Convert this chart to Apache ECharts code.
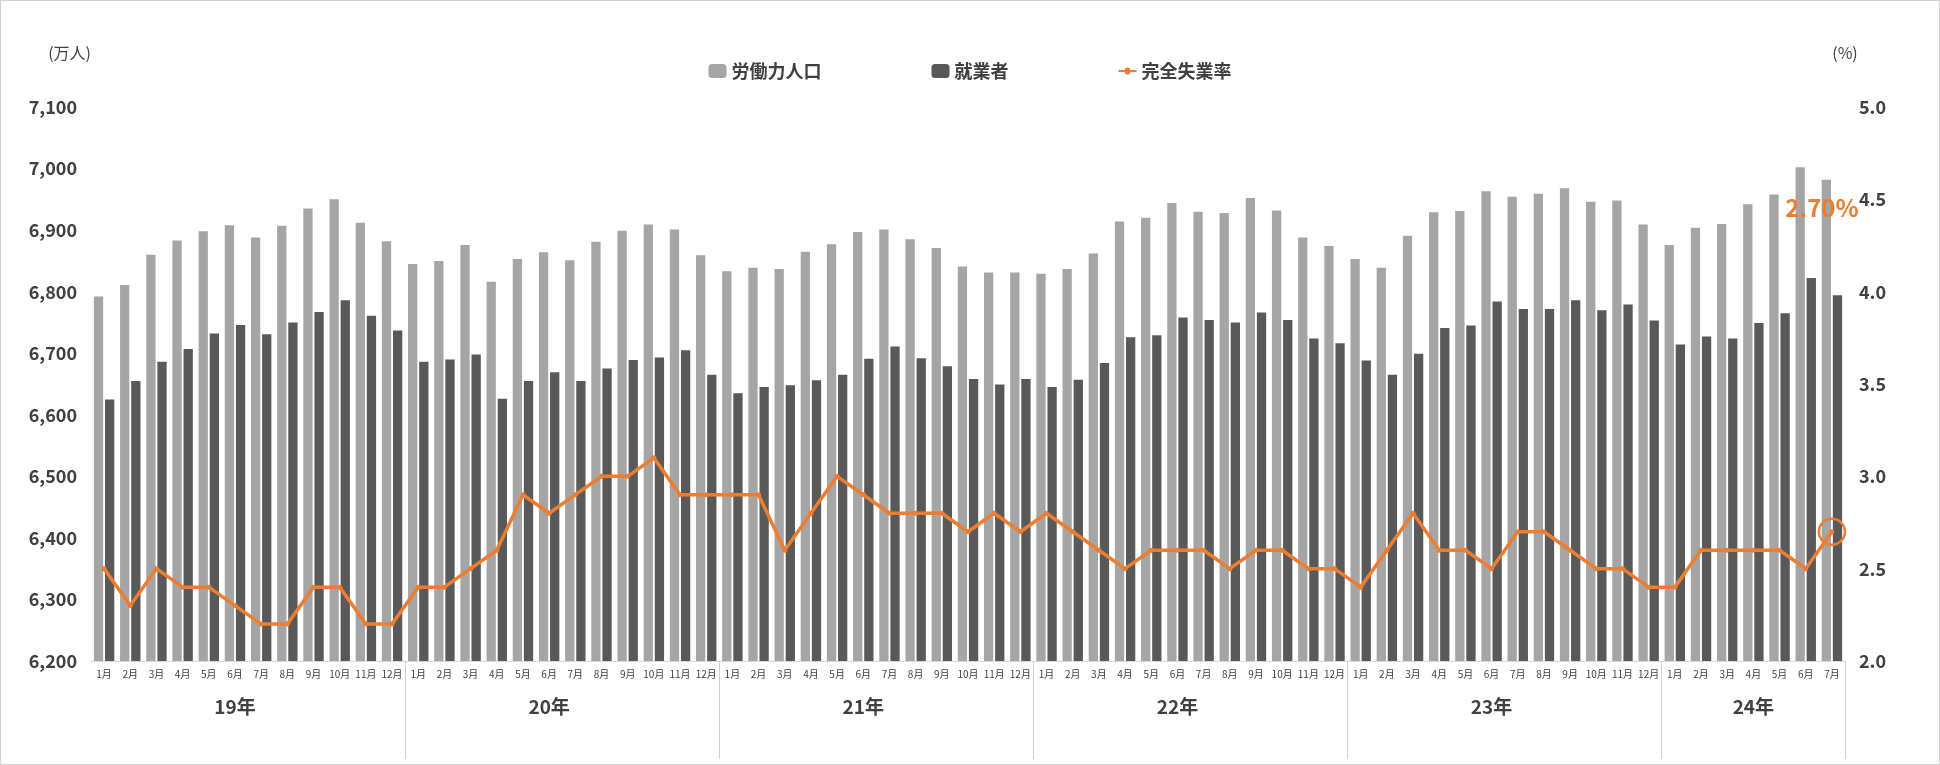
<!DOCTYPE html>
<html><head><meta charset="utf-8">
<script src="https://cdn.jsdelivr.net/npm/echarts@6/dist/echarts.min.js"></script>
<style>html,body{margin:0;background:#fff}#c{width:1938px;height:763px;border:1px solid #d0d0d0}</style>
</head><body><div id="c"></div>
<script>
var years = ['19年', '20年', '21年', '22年', '23年', '24年'];
var monthsPerYear = [12, 12, 12, 12, 12, 7];
var laborForce = [
  6792, 6811, 6860, 6883, 6898, 6908, 6888, 6907, 6935, 6950, 6912, 6882,
  6845, 6850, 6876, 6816, 6853, 6864, 6851, 6881, 6899, 6909, 6901, 6859,
  6833, 6839, 6837, 6865, 6877, 6897, 6901, 6885, 6871, 6841, 6831, 6831,
  6829, 6837, 6862, 6914, 6920, 6944, 6930, 6928, 6952, 6932, 6888, 6874,
  6853, 6839, 6891, 6929, 6931, 6963, 6954, 6959, 6968, 6946, 6948, 6909,
  6876, 6904, 6910, 6942, 6958, 7002, 6982
];
var employed = [
  6625, 6655, 6686, 6707, 6732, 6746, 6731, 6750, 6767, 6786, 6761, 6737,
  6686, 6690, 6698, 6626, 6655, 6669, 6655, 6675, 6689, 6693, 6705, 6665,
  6635, 6645, 6648, 6656, 6665, 6691, 6711, 6692, 6679, 6658, 6649, 6658,
  6645, 6657, 6684, 6726, 6729, 6758, 6754, 6750, 6766, 6754, 6724, 6716,
  6688, 6665, 6699, 6741, 6745, 6784, 6772, 6772, 6786, 6770, 6779, 6753,
  6714, 6727, 6724, 6749, 6765, 6822, 6794
];
var unemploymentRate = [
  2.5, 2.3, 2.5, 2.4, 2.4, 2.3, 2.2, 2.2, 2.4, 2.4, 2.2, 2.2,
  2.4, 2.4, 2.5, 2.6, 2.9, 2.8, 2.9, 3.0, 3.0, 3.1, 2.9, 2.9,
  2.9, 2.9, 2.6, 2.8, 3.0, 2.9, 2.8, 2.8, 2.8, 2.7, 2.8, 2.7,
  2.8, 2.7, 2.6, 2.5, 2.6, 2.6, 2.6, 2.5, 2.6, 2.6, 2.5, 2.5,
  2.4, 2.6, 2.8, 2.6, 2.6, 2.5, 2.7, 2.7, 2.6, 2.5, 2.5, 2.4,
  2.4, 2.6, 2.6, 2.6, 2.6, 2.5, 2.7
];

var months = [], yearOf = [], yearStart = {}, yearMid = {};
var idx = 0;
years.forEach(function (y, i) {
  yearStart[idx] = true;
  yearMid[idx + Math.floor((monthsPerYear[i] - 1) / 2)] = true;
  for (var m = 1; m <= monthsPerYear[i]; m++) {
    months.push(m + '月' + '#' + idx);
    yearOf.push(y);
    idx++;
  }
});
var font = 'Noto Sans CJK JP';
var chart = echarts.init(document.getElementById('c'));
chart.setOption({
  textStyle: { fontFamily: font },
  legend: {
    top: 56, left: 'center', itemGap: 110, itemWidth: 18, itemHeight: 14,
    textStyle: { fontSize: 18, color: '#404040', fontFamily: font, fontWeight: 'bold' },
    data: ['労働力人口', '就業者', { name: '完全失業率', icon: 'path://M0,6L14,6A4,4,0,0,1,26,6L40,6L40,10L26,10A4,4,0,0,1,14,10L0,10Z' }]
  },
  grid: { left: 90, right: 94, top: 106, bottom: 103 },
  xAxis: [{
    type: 'category', data: months,
    axisLine: { lineStyle: { color: '#d9d9d9' } },
    axisTick: { show: false },
    axisLabel: { interval: 0, fontSize: 10, color: '#404040', formatter: function (v) { return v.split('#')[0]; } }
  }, {
    type: 'category', data: yearOf, position: 'bottom', offset: 0,
    axisLine: { show: false },
    axisTick: { show: true, length: 98, interval: function (i) { return yearStart[i] && i > 0; }, lineStyle: { color: '#d0d0d0' } },
    axisLabel: { margin: 36, interval: function (i) { return !!yearMid[i]; }, fontSize: 19, fontWeight: 'bold', color: '#404040',
      align: 'center' }
  }],
  yAxis: [{
    type: 'value', min: 6200, max: 7100, interval: 100,
    name: '(万人)', nameLocation: 'end', nameGap: 46, nameTextStyle: { fontSize: 16, color: '#404040', align: 'right' },
    axisLabel: { fontSize: 18, fontWeight: 'bold', color: '#404040', margin: 14, formatter: function (v) { return v.toLocaleString('en-US'); } },
    splitLine: { show: false }, axisLine: { show: false }, axisTick: { show: false }
  }, {
    type: 'value', min: 2.0, max: 5.0, interval: 0.5,
    name: '(%)', nameGap: 46, nameTextStyle: { fontSize: 16, color: '#404040' },
    axisLabel: { fontSize: 18, fontWeight: 'bold', color: '#404040', margin: 14, formatter: function (v) { return v.toFixed(1); } },
    splitLine: { show: false }, axisLine: { show: false }, axisTick: { show: false }
  }],
  series: [{
    name: '労働力人口', type: 'bar', data: laborForce, itemStyle: { color: '#a5a5a5' },
    barGap: '20%', barCategoryGap: '22%'
  }, {
    name: '就業者', type: 'bar', data: employed, itemStyle: { color: '#595959' }
  }, {
    name: '完全失業率', type: 'line', yAxisIndex: 1, data: unemploymentRate,
    itemStyle: { color: '#ed7d31' }, lineStyle: { width: 3.5, color: '#ed7d31' },
    symbol: 'circle', symbolSize: 5,
    markPoint: {
      symbol: 'circle', symbolSize: 26,
      itemStyle: { color: 'rgba(0,0,0,0)', borderColor: '#ed7d31', borderWidth: 2.5 },
      label: { show: true, position: 'top', distance: 298, offset: [-10, 0], formatter: '2.70%', color: '#ed7d31', fontSize: 24, fontWeight: 'bold' },
      data: [{ coord: [months.length - 1, unemploymentRate[unemploymentRate.length - 1]] }]
    }
  }]
});
</script></body></html>
